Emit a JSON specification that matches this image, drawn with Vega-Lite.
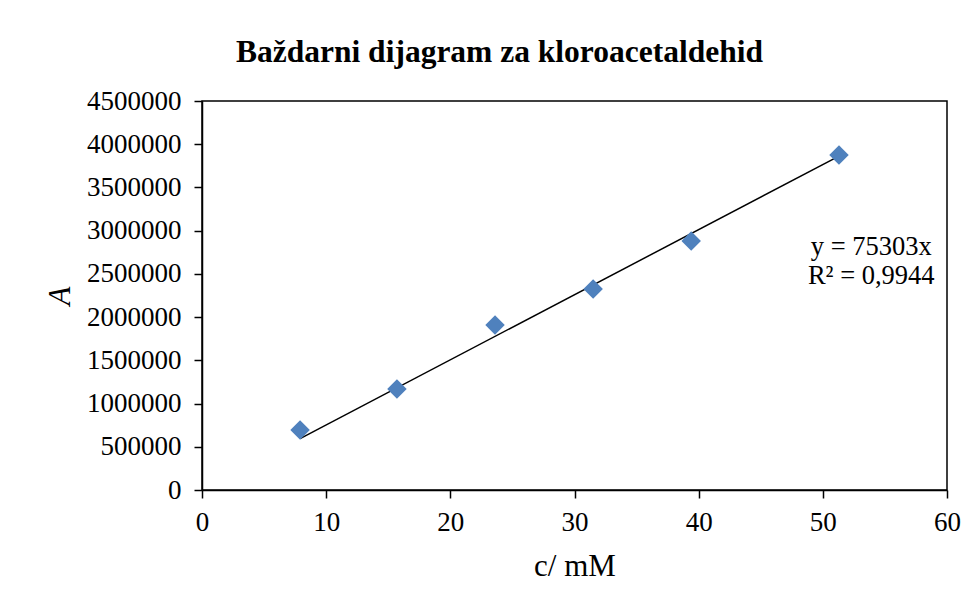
{
  "$schema": "https://vega.github.io/schema/vega-lite/v6.json",
  "width": 745,
  "height": 389,
  "autosize": {"type": "none"},
  "padding": {"left": 202, "top": 101, "right": 32, "bottom": 120},
  "background": "white",
  "title": {
    "text": "Baždarni dijagram za kloroacetaldehid",
    "font": "Liberation Serif",
    "fontSize": 31.5,
    "fontWeight": "bold",
    "color": "black",
    "anchor": "middle",
    "dx": -75,
    "offset": 19
  },
  "config": {
    "view": {"stroke": "black", "strokeWidth": 1.5},
    "axis": {
      "grid": false,
      "labelFlush": false,
      "domainColor": "black",
      "domainWidth": 1.5,
      "tickColor": "black",
      "tickWidth": 1.5,
      "tickSize": 8,
      "labelFont": "Liberation Serif",
      "labelFontSize": 27,
      "labelColor": "black",
      "titleFont": "Liberation Serif",
      "titleFontSize": 31,
      "titleFontWeight": "normal",
      "titleColor": "black"
    }
  },
  "datasets": {
    "points": [
      {"c": 7.9, "A": 694000},
      {"c": 15.7, "A": 1168000},
      {"c": 23.6, "A": 1909000},
      {"c": 31.5, "A": 2325000},
      {"c": 39.4, "A": 2880000},
      {"c": 51.3, "A": 3875000}
    ],
    "trend": [
      {"c": 7.9, "A": 595000},
      {"c": 51.3, "A": 3863000}
    ],
    "labels": [
      {"c": 53.9, "A": 2810000, "label": "y = 75303x"},
      {"c": 53.9, "A": 2470000, "label": "R² = 0,9944"}
    ]
  },
  "layer": [
    {
      "data": {"name": "trend"},
      "mark": {"type": "line", "color": "black", "strokeWidth": 1.5},
      "encoding": {
        "x": {
          "field": "c",
          "type": "quantitative",
          "scale": {"domain": [0, 60], "nice": false},
          "axis": {"values": [0, 10, 20, 30, 40, 50, 60], "title": "c/ mM", "labelPadding": 11, "titlePadding": 16}
        },
        "y": {
          "field": "A",
          "type": "quantitative",
          "scale": {"domain": [0, 4500000], "nice": false},
          "axis": {
            "values": [0, 500000, 1000000, 1500000, 2000000, 2500000, 3000000, 3500000, 4000000, 4500000],
            "format": "d",
            "title": "A",
            "titleFontStyle": "italic",
            "labelPadding": 13,
            "titlePadding": 10
          }
        }
      }
    },
    {
      "data": {"name": "points"},
      "mark": {"type": "point", "shape": "diamond", "filled": true, "size": 380, "color": "#4F81BD", "opacity": 1},
      "encoding": {
        "x": {"field": "c", "type": "quantitative"},
        "y": {"field": "A", "type": "quantitative"}
      }
    },
    {
      "data": {"name": "labels"},
      "mark": {"type": "text", "font": "Liberation Serif", "fontSize": 26.5, "color": "black", "align": "center", "baseline": "middle"},
      "encoding": {
        "x": {"field": "c", "type": "quantitative"},
        "y": {"field": "A", "type": "quantitative"},
        "text": {"field": "label"}
      }
    }
  ]
}
